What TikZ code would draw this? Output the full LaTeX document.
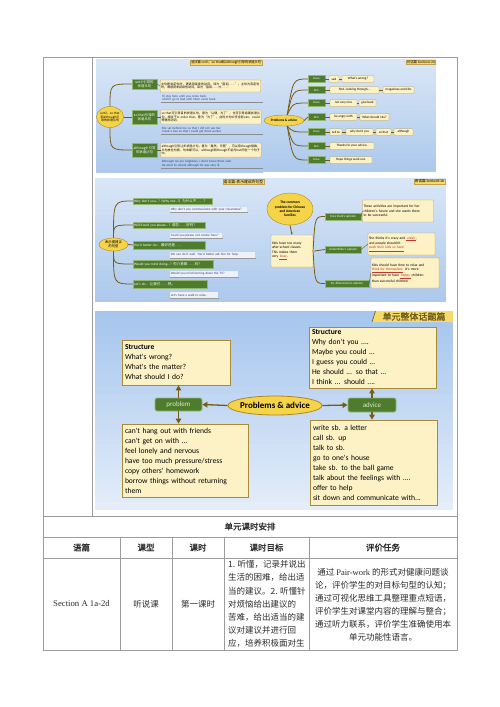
\documentclass[tikz,border=0pt]{standalone}
\usepackage{fontspec}
\setmainfont{Liberation Serif}
\newfontfamily\cjk{Noto Sans CJK SC}
\newfontfamily\cjkbf{Noto Sans CJK SC}[FakeBold=1.2]
\newfontfamily\mapfont{Carlito}
\XeTeXlinebreaklocale "zh"
\XeTeXlinebreakskip=0pt plus 1pt
\usetikzlibrary{shapes.geometric,arrows.meta,positioning}
\definecolor{cGrid}{HTML}{9C9C9C}
\definecolor{cInk}{HTML}{2B2B2B}
\definecolor{cSkyTop}{HTML}{D9E6F6}
\definecolor{cSkyBot}{HTML}{ADC9ED}
\definecolor{cBigTop}{HTML}{A6C6EE}
\definecolor{cBigBot}{HTML}{E4EDF9}
\definecolor{cLeaf}{HTML}{4E7B2C}
\definecolor{cLeafLine}{HTML}{94B872}
\definecolor{cPill}{HTML}{DCEBCB}
\definecolor{cNote}{HTML}{FDF2C6}
\definecolor{cNoteLine}{HTML}{BFA04E}
\definecolor{cBigLine}{HTML}{A88B3A}
\definecolor{cHub}{HTML}{F6D44A}
\definecolor{cHubLine}{HTML}{AD8822}
\definecolor{cTwig}{HTML}{7A5B12}
\definecolor{cTag}{HTML}{F8DA68}
\definecolor{cTagText}{HTML}{6B5A1E}
\definecolor{cSub}{HTML}{EEF1F8}
\definecolor{cExText}{HTML}{34426E}
\definecolor{cKey}{HTML}{C0392B}
\newcommand\zh[1]{{\cjk #1}}
\newcommand\fsz[2]{\fontsize{#1}{#2}\selectfont}
\newcommand\keyword[1]{{\color{cKey}\underline{#1}}}
\newcommand\goalline[1]{\makebox[76.5pt][s]{#1}}
\newcommand\skypanel[6]{%
  \foreach \k in {0,...,23}{
    \pgfmathtruncatemacro\mixp{\k*100/23}
    \fill[#6!\mixp!#5] (#1,{#2+(#4-#2)*\k/24}) rectangle (#3,{#2+(#4-#2)*(\k+1)/24+0.2});
  }}
\begin{document}
\begin{tikzpicture}[x=1pt,y=-1pt,
  grid/.style={draw=cGrid,line width=0.7pt},
  hub/.style={ellipse,fill=cHub,draw=cHubLine,line width=0.4pt,inner sep=0pt,align=center},
  leafbox/.style={fill=cLeaf,draw=cLeafLine,line width=0.3pt,text=white,inner sep=0.6pt,align=center},
  notebox/.style={fill=cNote,draw=cNoteLine,line width=0.3pt,inner sep=0.8pt,rounded corners=0.6pt},
  tag/.style={fill=cTag,draw=cNoteLine,line width=0.3pt,inner sep=0.8pt,anchor=north east},
  twig/.style={draw=cTwig,line width=0.8pt},
  wordlink/.style={draw=cTwig,line width=0.4pt},
  exbox/.style={anchor=north west,inner sep=0.6pt,align=left,text=cExText,font={\mapfont\fsz{3.2}{3.9}}},
  exline/.style={draw=black!45,line width=0.4pt},
  rulebox/.style={notebox,align=left,text width=99pt,font={\cjk\fsz{3}{3.7}}},
  wordbox/.style={notebox,minimum height=6.5pt,inner xsep=0.6pt,font={\mapfont\fsz{3.3}{4}}},
  namebox/.style={leafbox,minimum width=17pt,minimum height=7pt,font={\mapfont\fsz{3}{3.6}}},
  barbox/.style={leafbox,anchor=west,align=left,minimum height=6.5pt,inner xsep=1pt,font={\mapfont\fsz{3.5}{4}}},
  subbox/.style={anchor=west,fill=cSub,inner sep=0.6pt,minimum height=5.5pt,align=left,text=cExText,font={\mapfont\fsz{3.3}{4}}},
  shadowline/.style={draw=black!40,line width=0.6pt},
  opbox/.style={leafbox,minimum height=7pt,font={\mapfont\fsz{3.2}{3.8}}},
  readnote/.style={notebox,align=left,inner sep=1pt,font={\mapfont\fsz{3.6}{4.4}}},
  bigbox/.style={fill=cNote,draw=cBigLine,line width=0.8pt,inner sep=3pt,align=left,font={\mapfont\fsz{7.6}{10}}},
  pill/.style={fill=cLeaf,draw=cLeafLine,line width=0.8pt,rounded corners=2pt,text=cPill,font={\mapfont\fsz{7}{8}}},
  bigarrow/.style={draw=cTwig,line width=1.3pt,-{Triangle[length=5pt,width=5.5pt]}},
  cell/.style={text=cInk,font={\cjk\fsz{8.5}{10}}},
  headcell/.style={text=cInk,font={\cjkbf\fsz{8.5}{10}}}]
\useasboundingbox (0,0) rectangle (500,707);
\fill[white] (0,0) rectangle (500,707);

\draw[grid] (43,57) rectangle (457,650);
\draw[grid] (92,57) -- (92,516);
\draw[grid] (43,516) -- (457,516);
\draw[grid] (43,537) -- (457,537);
\draw[grid] (43,558) -- (457,558);
\foreach \x in {120,172,224,309} \draw[grid] (\x,537) -- (\x,650);

\skypanel{96}{59}{263}{173}{cSkyTop}{cSkyBot}
\node[tag,font={\cjk\fsz{3.2}{3.8}}] (tagA) at (262,59.5) {语法篇 until、so that和although引导的状语从句};
\node[hub,minimum width=27pt,minimum height=21pt,font={\cjk\fsz{3}{3.6}}] (hubA) at (110,117) {until、so that\\和although引\\导的状语从句};
\node[leafbox,minimum width=25pt,minimum height=10pt,font={\cjk\fsz{3.4}{4}}] (untilA) at (144.5,84) {until 引导的\\状语从句};
\node[leafbox,minimum width=25pt,minimum height=14pt,font={\cjk\fsz{3.4}{4}}] (sothatA) at (144.5,117) {so that引导的\\状语从句};
\node[leafbox,minimum width=25pt,minimum height=14pt,font={\cjk\fsz{3.4}{4}}] (althoA) at (144.5,150) {although 引导\\的状语从句};
\node[rulebox,minimum height=12pt] (ruleA) at (210.5,86) {主句是肯定句时，谓语用延续性动词，译为“直到……”；主句为否定句时，谓语用非延续性动词，译为“直到……才……”};
\node[rulebox,minimum height=14pt] (ruleB) at (211,117) {so that可引导目的状语从句，意为“以便，为了”，也可引导结果状语从句，相当于in order that，意为“为了”，此时从句中多含有can、could等情态动词。};
\node[rulebox,minimum height=14pt] (ruleC) at (211,150) {although引导让步状语从句，意为“虽然，尽管”，可以用though替换，从句放在句首、句末都可以。although和though不能与but同在一个句子中。};
\node[exbox,text width=100pt] (exA) at (161,94) {I'll stay here until you come back.\\I didn't go to bed until Mom came back.};
\node[exbox,text width=100pt] (exB) at (161,126) {She sat behind me so that I did not see her.\\I took a taxi so that I could get there earlier.};
\node[exbox,text width=100pt] (exC) at (161,159.5) {Although we are neighbors, I don't know them well.\\He went to school although he was very ill.};
\foreach \e in {exA,exB,exC} \draw[exline] (\e.south west) -- (\e.south east);
\draw[twig] (hubA.north) .. controls (110,84) .. (untilA.west);
\draw[twig] (hubA.east) -- (sothatA.west);
\draw[twig] (hubA.south) .. controls (110,150) .. (althoA.west);
\draw[wordlink] (untilA.east) -- (ruleA.west);
\draw[wordlink] (sothatA.east) -- (ruleB.west);
\draw[wordlink] (althoA.east) -- (ruleC.west);

\skypanel{263}{59}{436}{172}{cSkyTop}{cSkyBot}
\node[tag,font={\mapfont\fsz{3.4}{4}}] (tagB) at (435.5,59.5) {\zh{对话篇} SectionA-2d};
\node[hub,minimum width=40pt,minimum height=11pt,font={\mapfont\bfseries\fsz{3.4}{4}}] (hubB) at (284,120.5) {Problems \& advice};
\foreach \i/\y/\who in {1/79/Dave,2/90/Kim,3/103/Dave,4/117/Kim,5/132/Dave,6/146/Kim,7/160/Dave}
  \node[namebox] (spk\i) at (316.5,\y) {\who};
\foreach \i in {1,2,3} \draw[twig] (hubB.60) .. controls (spk\i.west -| 293,0) .. (spk\i.west);
\draw[twig] (hubB.east) -- (spk4.west);
\foreach \i in {5,6,7} \draw[twig] (hubB.-60) .. controls (spk\i.west -| 293,0) .. (spk\i.west);
\node[wordbox,minimum width=10pt] (sad) at (334,79) {sad};
\node[wordbox,minimum width=32pt] (wrong) at (358,79) {What's wrong?};
\node[wordbox,minimum width=49pt] (find) at (354.5,90) {find...looking through...};
\node[wordbox,minimum width=31pt] (mags) at (398.5,90) {magazines and CDs};
\node[wordbox,minimum width=27pt] (notnice) at (343.5,103) {not very nice};
\node[wordbox,minimum width=17pt] (giveback) at (367.5,103) {give back};
\node[wordbox,minimum width=27pt] (angry) at (343.5,117) {be angry with};
\node[wordbox,minimum width=29pt] (whatdo) at (374.5,117) {What should I do?};
\node[wordbox,minimum width=12pt] (tellto) at (336,132) {tell to};
\node[wordbox,minimum width=27pt] (whydont) at (359.5,132) {why don't you};
\node[wordbox,minimum width=15pt] (sothat) at (383.5,132) {so that};
\node[wordbox,minimum width=19pt] (although) at (403.5,132) {although};
\node[wordbox,minimum width=44pt] (thanks) at (352,146) {Thanks for your advice.};
\node[wordbox,minimum width=42pt] (hope) at (351,160) {Hope things work out.};
\draw[wordlink] (spk1.east) -- (sad.west) (sad.east) -- (wrong.west);
\draw[wordlink] (spk2.east) -- (find.west) (find.east) -- (mags.west);
\draw[wordlink] (spk3.east) -- (notnice.west) (notnice.east) -- (giveback.west);
\draw[wordlink] (spk4.east) -- (angry.west) (angry.east) -- (whatdo.west);
\draw[wordlink] (spk5.east) -- (tellto.west) (tellto.east) -- (whydont.west) (whydont.east) -- (sothat.west) (sothat.east) -- (although.west);
\draw[wordlink] (spk6.east) -- (thanks.west);
\draw[wordlink] (spk7.east) -- (hope.west);

\skypanel{95}{178}{265}{302}{cSkyTop}{cSkyBot}
\node[tag,font={\cjk\fsz{3.8}{4.4}}] (tagC) at (264,179) {语法篇-表示建议的句型};
\node[hub,minimum width=29pt,minimum height=13pt,font={\cjk\fsz{3.4}{4}}] (hubC) at (113.5,244.5) {表示提建议\\的句型};
\node[barbox,text width=77pt] (barC1) at (133,201) {Why don't you...? (Why not...?) \zh{为什么不……?}};
\node[barbox,text width=70pt] (barC2) at (133,225) {Will/Could you please...? \zh{请您……好吗?}};
\node[barbox,text width=70pt,minimum height=8pt] (barC3) at (133,245) {You'd better do... \zh{最好还是……}};
\node[barbox,text width=78pt,minimum height=8pt] (barC4) at (133,264) {Would you mind doing...? \zh{你介意做……吗?}};
\node[barbox,text width=72pt,minimum height=8pt] (barC5) at (133,284) {Let's do... \zh{让我们……吧。}};
\node[subbox,text width=76pt] (subC1) at (170,209.5) {Why don't you communicate with your classmates?};
\node[subbox,text width=51pt] (subC2) at (170,235.5) {Could you please not smoke here?};
\node[subbox,text width=84pt] (subC3) at (170,255) {We can do it well. You'd better ask him for help.};
\node[subbox,text width=67pt] (subC4) at (170,274) {Would you mind turning down the TV?};
\node[subbox,text width=47pt] (subC5) at (170,295) {Let's have a walk to relax.};
\foreach \s in {subC1,subC2,subC3,subC4,subC5} \draw[shadowline] (\s.south west) -- (\s.south east);
\draw[twig] (hubC.north) .. controls (113.5,201) .. (barC1.west);
\draw[twig] (hubC.north) .. controls (113.5,225) .. (barC2.west);
\draw[twig] (hubC.east) -- (barC3.west);
\draw[twig] (hubC.south) .. controls (113.5,264) .. (barC4.west);
\draw[twig] (hubC.south) .. controls (113.5,284) .. (barC5.west);

\skypanel{265}{178}{446}{302}{cSkyTop}{cSkyBot}
\node[tag,font={\mapfont\fsz{3.6}{4.2}}] (tagD) at (445,179) {\zh{阅读篇} SectionB-2b};
\node[hub,minimum width=46pt,minimum height=32pt,font={\mapfont\bfseries\fsz{3.6}{4.2}}] (hubD) at (290,209) {The common\\problem for Chinese\\and American\\families};
\node[readnote,text width=40pt,minimum height=32pt] (kidsD) at (292,251) {Kids have too many\\after-school classes.\\This makes them\\very \keyword{\,busy\,}.};
\draw[twig,-{Stealth[length=2.5pt]}] (hubD.south) -- (kidsD.north);
\node[circle,fill=white,draw=cTwig,line width=0.3pt,inner sep=0.8pt] (hingeD) at (kidsD.east) {};
\node[opbox,minimum width=36pt] (coraD) at (343,216.5) {Cora Clark's opinion};
\node[opbox,minimum width=36pt] (lindaD) at (343,249.5) {Linda Miller's opinion};
\node[opbox,minimum width=44pt] (aliceD) at (347,283.5) {Dr. Alice Green's opinion};
\draw[twig] (hingeD.north) .. controls (315,216.5) .. (coraD.west);
\draw[twig] (hingeD.east) -- (lindaD.west);
\draw[twig] (hingeD.south) .. controls (315,283.5) .. (aliceD.west);
\node[readnote,text width=69pt,minimum height=22pt] (coraN) at (398,211) {These activities are important for her\\children's future and she wants them\\to be successful.};
\node[readnote,text width=65pt,minimum height=22pt] (lindaN) at (401.5,244) {She thinks it's crazy and \keyword{\,unfair\,},\\and people shouldn't\\\keyword{push their kids so hard}.};
\node[readnote,text width=66pt,minimum height=30pt] (aliceN) at (405,273) {Kids should have time to relax and\\\keyword{think for themselves}. It's more\\important to have \keyword{\,happy\,} children\\than successful children.};
\draw[wordlink] (coraD.east) -- (coraN.west);
\draw[wordlink] (lindaD.east) -- (lindaN.west);
\draw[wordlink] (aliceD.east) -- (aliceN.west);

\skypanel{95}{311}{453}{510}{cBigTop}{cBigBot}
\fill[cTag] (372,322) -- (375.5,311) -- (453,311) -- (453,322) -- cycle;
\draw[cTagText,line width=0.6pt] (372,322) -- (375.5,311);
\node[text=cTagText,inner sep=0pt,font={\cjkbf\fsz{9}{10}}] (tagE) at (414,316.5) {单元整体话题篇};
\node[bigbox,minimum height=45pt,text width=102pt] (probTop) at (176,362.5) {\textbf{Structure}\\What's wrong?\\What's the matter?\\What should I do?};
\node[bigbox,minimum height=73pt,text width=120pt] (probBot) at (185,460.5) {can't hang out with friends\\can't get on with ...\\feel lonely and nervous\\have too much pressure/stress\\copy others' homework\\borrow things without returning\\them};
\node[bigbox,minimum height=61pt,text width=121pt] (advTop) at (372.5,357.5) {\textbf{Structure}\\Why don't you ....\\Maybe you could ...\\I guess you could ...\\He should ... so that ...\\I think ... should ....};
\node[bigbox,minimum height=85pt,text width=121pt] (advBot) at (373.5,462.5) {write sb. a letter\\call sb. up\\talk to sb.\\go to one's house\\take sb. to the ball game\\talk about the feelings with ....\\offer to help\\sit down and communicate with...};
\node[pill,minimum width=47pt,minimum height=13pt] (probNode) at (178.5,404.5) {problem};
\node[pill,minimum width=48pt,minimum height=14pt] (advNode) at (372,405) {advice};
\node[hub,line width=0.8pt,inner xsep=-6pt,minimum width=94pt,minimum height=19pt,font={\mapfont\bfseries\fsz{9}{10}}] (bigHub) at (275,405.5) {Problems \& advice};
\draw[bigarrow] (bigHub.west) -- (probNode.east);
\draw[bigarrow] (bigHub.east) -- (advNode.west);
\draw[bigarrow] (probNode.north) -- (probNode.north |- probTop.south);
\draw[bigarrow] (probNode.south) -- (probNode.south |- probBot.north);
\draw[bigarrow] (advNode.north) -- (advNode.north |- advTop.south);
\draw[bigarrow] (advNode.south) -- (advNode.south |- advBot.north);

\node[headcell] (planTitle) at (250,526.5) {单元课时安排};
\foreach \x/\t [count=\i] in {81.5/语篇,146/课型,198/课时,266.5/课时目标,383/评价任务}
  \node[headcell] (head\i) at (\x,547.5) {\t};
\node[text=cInk,font={\fsz{8.7}{10}}] (secCell) at (81.5,604) {Section A 1a-2d};
\node[cell] (typeCell) at (146,604) {听说课};
\node[cell] (hourCell) at (198,604) {第一课时};
\node[cell,anchor=north west,align=left,inner sep=0pt,font={\cjk\fsz{8.5}{13.1}}] (goalCell) at (228,560.5) {\goalline{1. 听懂，记录并说出}\\\goalline{生活的困难，给出适}\\\goalline{当的建议。2. 听懂针}\\\goalline{对烦恼给出建议的}\\\goalline{苦难，给出适当的建}\\\goalline{议对建议并进行回}\\\goalline{应，培养积极面对生}};
\node[cell,align=center,inner sep=0pt,font={\cjk\fsz{8.5}{13}}] (evalCell) at (383,604.5) {通过 {\rmfamily Pair-work} 的形式对健康问题谈\\论，评价学生的对目标句型的认知；\\通过可视化思维工具整理重点短语，\\评价学生对课堂内容的理解与整合；\\通过听力联系，评价学生准确使用本\\单元功能性语言。};
\end{tikzpicture}
\end{document}
